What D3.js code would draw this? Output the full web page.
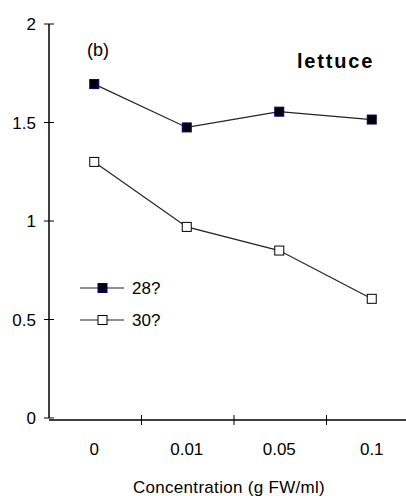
<!DOCTYPE html>
<html><head><meta charset="utf-8">
<script src="https://cdn.jsdelivr.net/npm/d3@7"></script>
<style>body{margin:0;background:#fff}svg{display:block}</style>
</head><body>
<script>
const categories = ["0", "0.01", "0.05", "0.1"];
const series28 = [1.695, 1.475, 1.555, 1.515];
const series30 = [1.30, 0.97, 0.85, 0.605];
const seriesNames = ["28?", "30?"];
const yTicks = [0, 0.5, 1, 1.5, 2];

const W = 406, H = 496;
const svg = d3.select("body").append("svg").attr("width", W).attr("height", H);
const font = "Arial, 'Liberation Sans', sans-serif";
const fs = 17;

const x = d3.scaleBand().domain(categories).range([49, 419]);
const y = d3.scaleLinear().domain([0, 2]).range([418, 24]);

// y axis
svg.append("line").attr("x1", 49).attr("x2", 49).attr("y1", y(2)).attr("y2", y(0)).attr("stroke", "#000").attr("stroke-width", 1.5);
yTicks.forEach(t => {
  svg.append("line").attr("x1", 44).attr("x2", 54).attr("y1", y(t)).attr("y2", y(t)).attr("stroke", "#000");
  svg.append("text").attr("x", 36).attr("y", y(t) + 6).attr("text-anchor", "end")
    .attr("font-family", font).attr("font-size", fs).text(t);
});
// x axis
svg.append("line").attr("x1", 49).attr("x2", W).attr("y1", 420).attr("y2", 420).attr("stroke", "#000").attr("stroke-width", 1.5);
categories.slice(1).forEach(c => {
  svg.append("line").attr("x1", x(c)).attr("x2", x(c)).attr("y1", 415).attr("y2", 425).attr("stroke", "#000");
});
categories.forEach(c => {
  svg.append("text").attr("x", x(c) + x.bandwidth() / 2 - 1).attr("y", 455).attr("text-anchor", "middle")
    .attr("font-family", font).attr("font-size", fs).text(c);
});
svg.append("text").attr("x", 229).attr("y", 493).attr("text-anchor", "middle")
  .attr("font-family", font).attr("font-size", fs).attr("letter-spacing", 0.3).text("Concentration (g FW/ml)");

const cx = c => x(c) + x.bandwidth() / 2 - 1;
const line = d3.line().x((d, i) => cx(categories[i])).y(d => y(d));

function drawSeries(vals, filled) {
  svg.append("path").datum(vals).attr("d", line).attr("fill", "none").attr("stroke", "#222").attr("stroke-width", 1.2);
  svg.selectAll(null).data(vals).enter().append("rect")
    .attr("x", (d, i) => cx(categories[i]) - 4.5).attr("y", d => y(d) - 4.5)
    .attr("width", 9).attr("height", 9)
    .attr("fill", filled ? "#000" : "#fff").attr("stroke", filled ? "#000080" : "#000").attr("stroke-width", 1);
}
drawSeries(series30, false);
drawSeries(series28, true);

// legend
[[seriesNames[0], true, 288], [seriesNames[1], false, 320]].forEach(([name, filled, ly]) => {
  svg.append("line").attr("x1", 80).attr("x2", 124).attr("y1", ly).attr("y2", ly).attr("stroke", "#222").attr("stroke-width", 1.2);
  svg.append("rect").attr("x", 98).attr("y", ly - 4.5).attr("width", 9).attr("height", 9)
    .attr("fill", filled ? "#000" : "#fff").attr("stroke", filled ? "#000080" : "#000");
  svg.append("text").attr("x", 132).attr("y", ly + 6).attr("font-family", font).attr("font-size", fs).text(name);
});

svg.append("text").attr("x", 87).attr("y", 56).attr("font-family", font).attr("font-size", 18).text("(b)");
svg.append("text").attr("x", 297).attr("y", 68).attr("font-family", font).attr("font-size", 20)
  .attr("font-weight", "bold").attr("letter-spacing", 1.8).text("lettuce");
</script>
</body></html>
